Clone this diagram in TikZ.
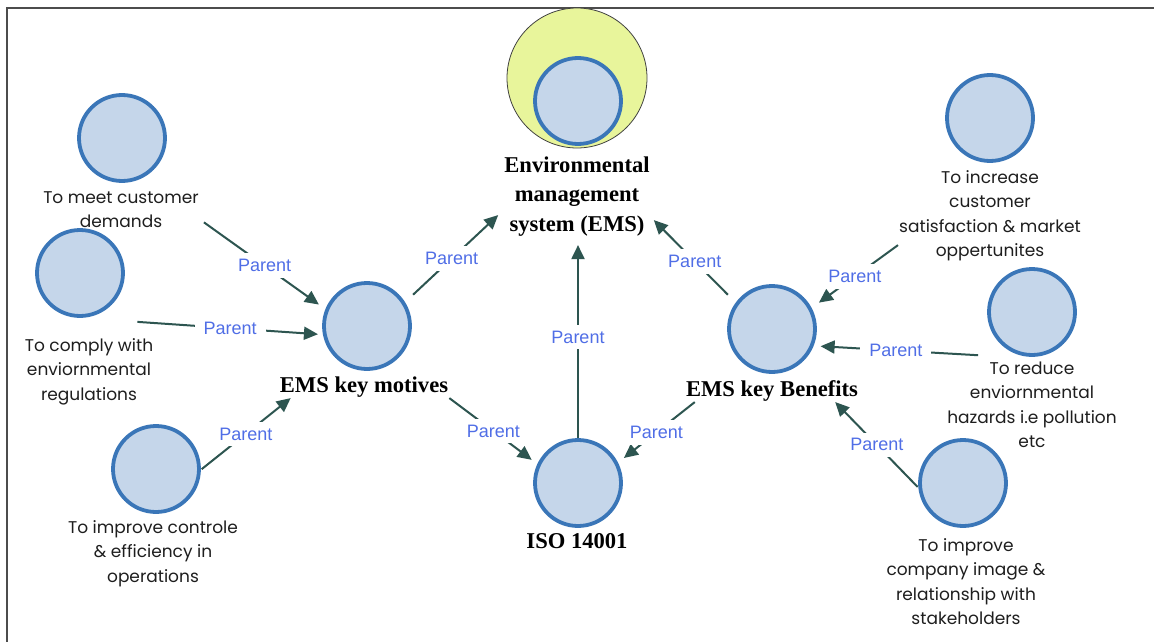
\documentclass[tikz,border=0pt]{standalone}
\usepackage{fontspec}
\usetikzlibrary{arrows.meta}
\newfontfamily\notefont{Poppins}
\newfontfamily\tagfont{Liberation Sans}
\newfontfamily\headfont{Liberation Serif}

\definecolor{bubblefill}{RGB}{197,214,234}
\definecolor{bubbleline}{RGB}{58,118,184}
\definecolor{corefill}{RGB}{232,245,155}
\definecolor{linkcol}{RGB}{45,85,80}
\definecolor{tagcol}{RGB}{80,110,230}
\definecolor{notecol}{RGB}{30,30,30}

\begin{document}
\begin{tikzpicture}[x=1pt,y=-1pt,
  bubble/.style={circle, draw=bubbleline, fill=bubblefill, line width=3.8pt, minimum size=86pt, inner sep=0pt},
  core/.style={circle, draw=black!75, fill=corefill, line width=0.8pt, minimum size=140pt, inner sep=0pt},
  % multi-line texts are placed by the baseline of their last line
  note/.style={align=center, inner sep=0pt, text=notecol, anchor=base,
    font=\notefont\fontsize{17}{24.5}\selectfont},
  head/.style={align=center, inner sep=0pt, anchor=base,
    font=\headfont\bfseries\fontsize{22.6}{29.5}\selectfont},
  link/.style={draw=linkcol, line width=2pt, -{Triangle[length=14pt,width=13pt]}},
  tag/.style={fill=white, inner xsep=9pt, inner ysep=6pt, text=tagcol,
    font=\tagfont\fontsize{18}{20}\selectfont},
]
\useasboundingbox (0,0) rectangle (1154,642);
\fill[white] (0,0) rectangle (1154,642);

% frame
\draw[line width=2pt, black!70] (7,642) -- (7,8) -- (1154,8);

% central concept
\node[core] (cOuter) at (577,78) {};
\node[bubble] (cEMS) at (578,101) {};
\node[head] (tEMS) at (577,231) {Environmental\\management\\system (EMS)};

% hubs
\node[bubble] (cMot) at (367,326) {};
\node[head] (tMot) at (364,392) {EMS key motives};
\node[bubble] (cBen) at (772,329) {};
\node[head] (tBen) at (772,396) {EMS key Benefits};
\node[bubble] (cISO) at (578,483) {};
\node[head] (tISO) at (577,548) {ISO 14001};

% motives
\node[bubble] (cMeet) at (122,138) {};
\node[note] (tMeet) at (121,227.5) {To meet customer\\demands};
\node[bubble] (cComply) at (80,273) {};
\node[note] (tComply) at (89,400) {To comply with\\enviornmental\\regulations};
\node[bubble] (cImp) at (156,469) {};
\node[note] (tImp) at (153,582) {To improve controle\\\& efficiency in\\operations};

% benefits
\node[bubble] (cInc) at (990,118) {};
\node[note] (tInc) at (990,256.5) {To increase\\customer\\satisfaction \& market\\oppertunites};
\node[bubble] (cRed) at (1032,312) {};
\node[note] (tRed) at (1032,447.5) {To reduce\\enviornmental\\hazards i.e pollution\\etc};
\node[bubble] (cCom) at (963,483) {};
\node[note] (tCom) at (966,624.5) {To improve\\company image \&\\relationship with\\stakeholders};

% parent links
\draw[link, shorten >=8pt] ([shift={(5,-5.5)}]tMeet.south east) -- node[tag]{Parent} (cMot.158);
\draw[link, shorten >=5pt] ([shift={(-16,-16)}]tComply.north east) -- node[tag]{Parent} (cMot.191);
\draw[link, shorten <=1pt] (cImp.-1) -- node[tag]{Parent} ([shift={(11,1)}]tMot.south west);
\draw[link, shorten <=11pt] (cMot.32) -- node[tag]{Parent} ([shift={(-6,-21)}]tEMS.south west);
\draw[link, shorten >=7pt] ([shift={(1,1)}]tMot.south east) -- node[tag]{Parent} (cISO.155);
\draw[link, shorten >=9pt] (cISO.north) -- node[tag]{Parent} (tEMS.south -| cISO.north);
\draw[link, shorten <=11pt] (cBen.144) -- node[tag]{Parent} ([shift={(4,-16)}]tEMS.south east);
\draw[link, shorten >=7.5pt] ([shift={(9,1)}]tBen.south west) -- node[tag]{Parent} (cISO.27);
\draw[link, shorten >=9pt] ([shift={(-1,-16)}]tInc.south west) -- node[tag]{Parent} (cBen.28);
\draw[link, shorten >=7pt] ([shift={(31,-6)}]tRed.north west) -- node[tag]{Parent} (cBen.-22);
\draw[link, shorten <=1pt] (cCom.186) -- node[tag]{Parent} ([shift={(-23,1)}]tBen.south east);
\end{tikzpicture}
\end{document}
